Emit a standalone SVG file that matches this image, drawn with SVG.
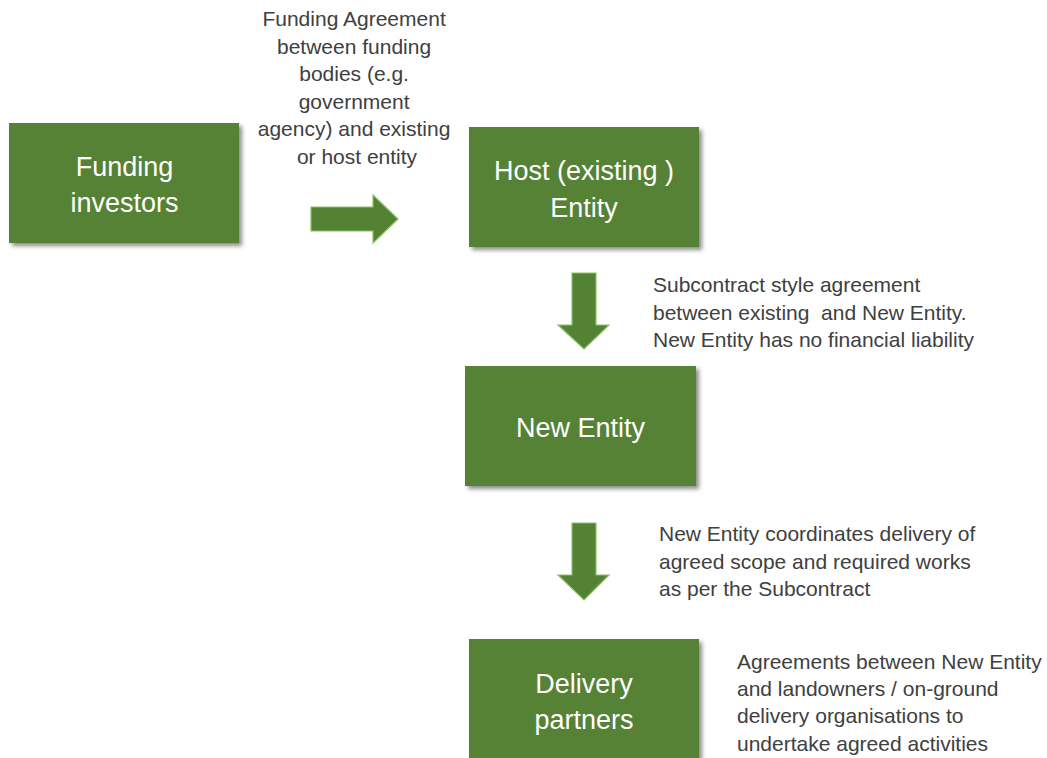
<svg xmlns="http://www.w3.org/2000/svg" width="1047" height="758" viewBox="0 0 1047 758">
<style>
.box{fill:#548235;filter:url(#sh)}
.bt{font-family:"Liberation Sans",Arial,sans-serif;font-size:27px;fill:#ffffff;text-anchor:middle}
.at{font-family:"Liberation Sans",Arial,sans-serif;font-size:21px;fill:#404040}
.arr{fill:#548235;stroke:#8cc063;stroke-width:1.2}
</style>
<defs>
<filter id="sh" x="-10%" y="-10%" width="125%" height="130%">
<feDropShadow dx="3" dy="3" stdDeviation="2" flood-color="#000" flood-opacity="0.45"/>
</filter>
</defs>
<rect width="1047" height="758" fill="#ffffff"/>
<g id="funding-investors">
<rect class="box" x="9" y="123" width="230" height="120"/>
<text class="bt" x="124.5" y="176">Funding</text>
<text class="bt" x="124.5" y="212">investors</text>
</g>
<g id="host-entity">
<rect class="box" x="469" y="127" width="230" height="120"/>
<text class="bt" x="584" y="180">Host (existing )</text>
<text class="bt" x="584" y="217">Entity</text>
</g>
<g id="new-entity">
<rect class="box" x="465" y="366" width="231" height="120"/>
<text class="bt" x="580.5" y="437">New Entity</text>
</g>
<g id="delivery-partners">
<rect class="box" x="469" y="639" width="230" height="130"/>
<text class="bt" x="584" y="693">Delivery</text>
<text class="bt" x="584" y="729">partners</text>
</g>
<g id="connectors">
<polygon class="arr" points="311,207 373,207 373,195 398,219 373,243 373,231 311,231"/>
<polygon class="arr" points="572,273 596,273 596,325 609,325 584,349 558,325 572,325"/>
<polygon class="arr" points="572,523 596,523 596,575 609,575 584,600 558,575 572,575"/>
</g>
<g id="labels">
<text class="at" text-anchor="middle">
<tspan x="357" y="26">Funding Agreement</tspan>
<tspan x="357" y="53.6">between funding</tspan>
<tspan x="357" y="81.2">bodies (e.g.</tspan>
<tspan x="357" y="108.8">government</tspan>
<tspan x="357" y="136.4">agency) and existing</tspan>
<tspan x="357" y="164">or host entity</tspan>
</text>
<text class="at">
<tspan x="653" y="292">Subcontract style agreement</tspan>
<tspan x="653" y="320">between existing&#160; and New Entity.</tspan>
<tspan x="653" y="347">New Entity has no financial liability</tspan>
</text>
<text class="at">
<tspan x="659" y="541">New Entity coordinates delivery of</tspan>
<tspan x="659" y="569">agreed scope and required works</tspan>
<tspan x="659" y="596">as per the Subcontract</tspan>
</text>
<text class="at">
<tspan x="737" y="669">Agreements between New Entity</tspan>
<tspan x="737" y="696">and landowners / on-ground</tspan>
<tspan x="737" y="723">delivery organisations to</tspan>
<tspan x="737" y="751">undertake agreed activities</tspan>
</text>
</g>
</svg>
